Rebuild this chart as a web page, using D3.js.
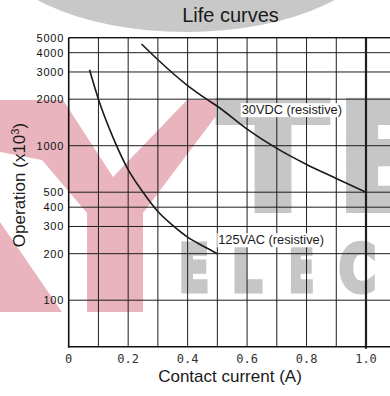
<!DOCTYPE html>
<html>
<head>
<meta charset="utf-8">
<script src="https://cdn.jsdelivr.net/npm/d3@7"></script>
<style>
  body { margin: 0; background: #fff; }
  svg { display: block; }
</style>
</head>
<body>
<svg id="chart" width="390" height="396"></svg>
<script>
// ---- data ----
const xGridValues = [0, 0.1, 0.2, 0.3, 0.4, 0.5, 0.6, 0.7, 0.8, 0.9, 1.0];
const xTickValues = [0, 0.2, 0.4, 0.6, 0.8, 1.0];
const xTickLabels = ["0", "0.2", "0.4", "0.6", "0.8", "1.0"];
const yTickValues = [100, 200, 300, 400, 500, 1000, 2000, 3000, 4000, 5000];
const yTickLabels = ["100", "200", "300", "400", "500", "1000", "2000", "3000", "4000", "5000"];

// 125 VAC resistive load: contact current (A) vs operations (x10^3)
const vacCurrent = [0.07, 0.10, 0.15, 0.20, 0.25, 0.30, 0.35, 0.40, 0.45, 0.50];
const vacOps     = [3100, 2000, 1120, 700, 500, 375, 305, 256, 225, 200];

// 30 VDC resistive load
const vdcCurrent = [0.245, 0.30, 0.40, 0.464, 0.50, 0.60, 0.70, 0.80, 0.90, 1.00];
const vdcOps     = [4550, 3600, 2450, 2000, 1800, 1280, 960, 756, 614, 500];

const seriesLabels = [
  { text: "30VDC (resistive)", x: 0.582, y: 1600 },
  { text: "125VAC (resistive)", x: 0.503, y: 230 }
];

// ---- layout ----
const svg = d3.select("#chart");
const plotLeft = 68.7, plotTop = 37.7, plotBottom = 346.7;

const x = d3.scaleLinear().domain([0, 1.1]).range([plotLeft, plotLeft + 1.1 * 297.3]);
const y = d3.scaleLog().domain([50, 5000]).range([plotBottom, plotTop]);

// ---- background brand mark ----
const bg = svg.append("g");
bg.append("ellipse")
  .attr("cx", 186).attr("cy", -60).attr("rx", 196).attr("ry", 92)
  .attr("fill", "#c8c8c8");

const pink = "#e9b4be";
bg.append("polygon")
  .attr("points", "0,100 63,100 113,177 187,100 228,100 143,213 143,312 87,312 87,213 42,160 0,152")
  .attr("fill", pink);
bg.append("polygon")
  .attr("points", "0,222 62,312 0,312")
  .attr("fill", pink);

const grey = "#c6c6c6";
const bigFont = "'DejaVu Sans', sans-serif";
const bigLetters = [
  { ch: "T", x: 218, w: 110 },
  { ch: "E", x: 336, w: 96 }
];
bg.selectAll("text.big").data(bigLetters).join("text")
  .attr("class", "big")
  .text(d => d.ch)
  .attr("x", d => d.x).attr("y", 210)
  .attr("font-family", bigFont).attr("font-weight", "bold").attr("font-size", 150)
  .attr("textLength", d => d.w).attr("lengthAdjust", "spacingAndGlyphs")
  .attr("fill", grey).attr("stroke", grey).attr("stroke-width", 6)
  .attr("stroke-linejoin", "miter");

const elec = [
  { ch: "E", x: 179, w: 30 },
  { ch: "L", x: 232, w: 30 },
  { ch: "E", x: 289, w: 25 },
  { ch: "C", x: 339, w: 37 }
];
bg.selectAll("text.elec").data(elec).join("text")
  .attr("class", "elec")
  .text(d => d.ch)
  .attr("x", d => d.x).attr("y", 290.5)
  .attr("font-family", bigFont).attr("font-weight", "bold").attr("font-size", 64)
  .attr("textLength", d => d.w).attr("lengthAdjust", "spacingAndGlyphs")
  .attr("fill", grey).attr("stroke", grey).attr("stroke-width", 5)
  .attr("stroke-linejoin", "miter");

// ---- grid ----
const grid = svg.append("g").attr("stroke", "#1e1e1e").attr("stroke-width", 1);
grid.selectAll("line.h").data(yTickValues).join("line")
  .attr("class", "h")
  .attr("x1", plotLeft).attr("x2", 390)
  .attr("y1", d => y(d)).attr("y2", d => y(d));
grid.selectAll("line.v").data(xGridValues.slice(1)).join("line")
  .attr("class", "v")
  .attr("x1", d => x(d)).attr("x2", d => x(d))
  .attr("y1", plotTop).attr("y2", d => d === 1.0 ? plotBottom + 2 : plotBottom)
  .attr("stroke-width", d => d === 1.0 ? 2.2 : 1);

// axis frame
svg.append("line").attr("x1", plotLeft).attr("x2", plotLeft).attr("y1", plotTop).attr("y2", plotBottom + 1)
  .attr("stroke", "#111").attr("stroke-width", 1.6);
svg.append("line").attr("x1", plotLeft).attr("x2", 390).attr("y1", plotBottom).attr("y2", plotBottom)
  .attr("stroke", "#111").attr("stroke-width", 1.6);
svg.append("line").attr("x1", plotLeft).attr("x2", 390).attr("y1", plotTop).attr("y2", plotTop)
  .attr("stroke", "#111").attr("stroke-width", 1.3);

// ---- curves ----
const line = d3.line()
  .x(d => x(d[0])).y(d => y(d[1]))
  .curve(d3.curveMonotoneX);

svg.append("path")
  .datum(d3.zip(vacCurrent, vacOps))
  .attr("d", line)
  .attr("fill", "none").attr("stroke", "#1a1a1a").attr("stroke-width", 1.6);

svg.append("path")
  .datum(d3.zip(vdcCurrent, vdcOps))
  .attr("d", line)
  .attr("fill", "none").attr("stroke", "#1a1a1a").attr("stroke-width", 1.6);

// ---- series labels on white boxes ----
const labelFont = "'Liberation Sans', Arial, sans-serif";
seriesLabels.forEach(s => {
  const g = svg.append("g");
  const t = g.append("text").text(s.text)
    .attr("x", x(s.x)).attr("y", y(s.y))
    .attr("font-family", labelFont).attr("font-size", 12.8)
    .attr("fill", "#1a1a1a");
  const b = t.node().getBBox();
  g.insert("rect", "text")
    .attr("x", b.x - 1).attr("y", b.y + 1)
    .attr("width", b.width + 2).attr("height", b.height - 1)
    .attr("fill", "#fff");
});

// ---- tick labels ----
svg.append("g").selectAll("text").data(yTickValues).join("text")
  .text((d, i) => yTickLabels[i])
  .attr("x", 64.3).attr("y", d => y(d))
  .attr("dy", "0.36em")
  .attr("text-anchor", "end")
  .attr("font-family", labelFont).attr("font-size", 11)
  .attr("letter-spacing", 0.85)
  .attr("fill", "#111");

svg.append("g").selectAll("text").data(xTickValues).join("text")
  .text((d, i) => xTickLabels[i])
  .attr("x", d => x(d)).attr("y", 362.7)
  .attr("text-anchor", "middle")
  .attr("font-family", "'DejaVu Sans Mono', monospace").attr("font-size", 12)
  .attr("fill", "#333");

// ---- titles ----
svg.append("text").text("Life curves")
  .attr("x", 230.5).attr("y", 21.7)
  .attr("text-anchor", "middle")
  .attr("font-family", labelFont).attr("font-size", 20)
  .attr("fill", "#1a1a1a");

svg.append("text").text("Contact current (A)")
  .attr("x", 230).attr("y", 381.7)
  .attr("text-anchor", "middle")
  .attr("font-family", labelFont).attr("font-size", 17)
  .attr("fill", "#1a1a1a");

const yTitle = svg.append("text")
  .attr("transform", "translate(25,185) rotate(-90)")
  .attr("text-anchor", "middle")
  .attr("font-family", labelFont).attr("font-size", 17)
  .attr("fill", "#1a1a1a");
yTitle.append("tspan").text("Operation (x10");
yTitle.append("tspan").text("3").attr("font-size", 11).attr("baseline-shift", "super");
yTitle.append("tspan").text(")");
</script>
</body>
</html>
